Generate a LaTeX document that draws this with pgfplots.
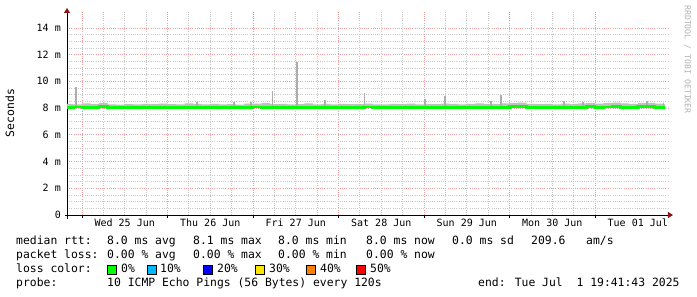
\documentclass[border=0pt]{standalone}
\usepackage{fontspec}
\setmainfont{DejaVu Sans Mono}
\setmonofont{DejaVu Sans Mono}
\usepackage{pgfplots}
\pgfplotsset{compat=1.18}
\usetikzlibrary{arrows.meta}
\definecolor{majgrid}{RGB}{232,160,160}
\definecolor{mingrid}{RGB}{200,200,200}
\definecolor{smoke}{RGB}{192,192,192}
\definecolor{arrowred}{RGB}{140,20,20}
\definecolor{lossgreen}{RGB}{0,255,0}
\definecolor{loss10}{RGB}{0,184,255}
\definecolor{loss20}{RGB}{0,0,255}
\definecolor{loss30}{RGB}{255,230,0}
\definecolor{loss40}{RGB}{255,128,0}
\definecolor{loss50}{RGB}{255,0,0}
\newcommand\legfont{\fontsize{11.4}{14}\selectfont}
\begin{document}
\begin{tikzpicture}
\path[use as bounding box, fill=white] (-67pt,-82pt) rectangle (630pt,215pt);
\begin{axis}[
  at={(0pt,0pt)}, anchor=south west,
  scale only axis, width=602pt, height=203pt,
  xmin=-0.1754, xmax=6.865, ymin=0, ymax=15.19,
  axis lines=left,
  x axis line style={black, line width=0.8pt, -{Triangle[length=5pt,width=6pt,color=arrowred]}, shorten <=-2pt, shorten >=-4pt},
  y axis line style={black, line width=0.8pt, -{Triangle[length=5pt,width=6pt,color=arrowred]}, shorten <=-4pt, shorten >=-4pt},
  xtick={0,1,2,3,4,5,6}, xticklabels={},
  minor x tick num=3,
  extra x ticks={0.5,1.5,2.5,3.5,4.5,5.5,6.5},
  extra x tick labels={Wed 25 Jun,Thu 26 Jun,Fri 27 Jun,Sat 28 Jun,Sun 29 Jun,Mon 30 Jun,Tue 01 Jul},
  extra x tick style={grid=none, major tick length=0pt},
  ytick={0,2,4,6,8,10,12,14},
  yticklabels={0,2 m,4 m,6 m,8 m,10 m,12 m,14 m},
  minor y tick num=3,
  grid=both,
  major grid style={majgrid, line width=0.8pt, dash pattern=on 1pt off 1.2pt},
  minor grid style={mingrid, line width=0.8pt, dash pattern=on 1pt off 1.2pt},
  tick style={black, line width=0.8pt},
  ytick style={draw=none},
  minor tick style={draw=none},
  tick align=outside, major tick length=3pt, minor tick length=0pt,
  ticklabel style={font=\fontsize{10}{12}\selectfont},
  yticklabel style={anchor=east, inner sep=0pt, xshift=-3pt},
  xticklabel style={anchor=base, inner sep=0pt, yshift=-12pt},
  /pgf/number format/assume math mode=true,
  clip=true,
]
% smoke band (upper envelope, then back along the lower edge)
\addplot[fill=smoke, draw=none, const plot] coordinates {
(-0.175,8.32) (-0.1,8.28) (0.0,8.35) (0.1,8.30) (0.2,8.37) (0.3,8.28) (0.4,8.26) (0.5,8.30) (0.6,8.27) (0.7,8.32)
(0.8,8.29) (0.9,8.34) (1.0,8.30) (1.1,8.28) (1.2,8.36) (1.3,8.31) (1.4,8.27) (1.5,8.32) (1.6,8.28) (1.7,8.30)
(1.8,8.26) (1.9,8.33) (2.0,8.34) (2.1,8.38) (2.2,8.29) (2.3,8.32) (2.4,8.28) (2.5,8.30) (2.6,8.35) (2.7,8.28)
(2.8,8.31) (2.9,8.27) (3.0,8.32) (3.1,8.29) (3.2,8.30) (3.3,8.33) (3.4,8.28) (3.5,8.27) (3.6,8.31) (3.7,8.29)
(3.8,8.33) (3.9,8.27) (4.0,8.32) (4.1,8.30) (4.2,8.34) (4.3,8.31) (4.4,8.28) (4.5,8.32) (4.6,8.36) (4.7,8.30)
(4.8,8.32) (4.9,8.35) (5.0,8.37) (5.1,8.40) (5.2,8.32) (5.3,8.29) (5.4,8.31) (5.5,8.28) (5.6,8.33) (5.7,8.31)
(5.8,8.36) (5.9,8.38) (6.0,8.34) (6.1,8.37) (6.2,8.40) (6.3,8.35) (6.4,8.31) (6.5,8.37) (6.6,8.39) (6.7,8.33)
(6.8,8.30) (6.82,8.30) (6.82,7.98) (-0.175,7.98)
};
% spikes
\addplot[smoke!90!black, line width=1.4pt, unbounded coords=jump] coordinates {
(-0.070,8.1) (-0.070,9.58) (-0.070,nan)
(1.345,8.1) (1.345,8.42) (1.345,nan)
(1.778,8.1) (1.778,8.48) (1.778,nan)
(1.977,8.1) (1.977,8.48) (1.977,nan)
(2.228,8.1) (2.228,9.28) (2.228,nan)
(2.515,8.1) (2.515,11.45) (2.515,nan)
(2.842,8.1) (2.842,8.60) (2.842,nan)
(3.304,8.1) (3.304,9.10) (3.304,nan)
(4.012,8.1) (4.012,8.65) (4.012,nan)
(4.246,8.1) (4.246,8.90) (4.246,nan)
(4.784,8.1) (4.784,8.50) (4.784,nan)
(4.901,8.1) (4.901,9.00) (4.901,nan)
(5.637,8.1) (5.637,8.55) (5.637,nan)
(5.860,8.1) (5.860,8.48) (5.860,nan)
(6.608,8.1) (6.608,8.55) (6.608,nan)
(6.800,8.1) (6.800,8.40)
};
% median rtt
\addplot[lossgreen, line width=2.8pt, const plot] coordinates {
(-0.175,8.05) (-0.1,8.08) (0.0,8.04) (0.1,8.06) (0.2,8.10) (0.3,8.05) (0.4,8.02) (0.5,8.04) (0.6,8.03) (0.7,8.06)
(0.8,8.04) (0.9,8.02) (1.0,8.05) (1.1,8.04) (1.2,8.07) (1.3,8.05) (1.4,8.03) (1.5,8.06) (1.6,8.04) (1.7,8.05)
(1.8,8.03) (1.9,8.06) (2.0,8.08) (2.1,8.05) (2.2,8.04) (2.3,8.06) (2.4,8.03) (2.5,8.05) (2.6,8.07) (2.7,8.04)
(2.8,8.05) (2.9,8.03) (3.0,8.06) (3.1,8.04) (3.2,8.05) (3.3,8.08) (3.4,8.04) (3.5,8.03) (3.6,8.05) (3.7,8.04)
(3.8,8.06) (3.9,8.03) (4.0,8.05) (4.1,8.04) (4.2,8.06) (4.3,8.05) (4.4,8.03) (4.5,8.05) (4.6,8.07) (4.7,8.04)
(4.8,8.05) (4.9,8.06) (5.0,8.09) (5.1,8.11) (5.2,8.06) (5.3,8.04) (5.4,8.05) (5.5,8.03) (5.6,8.06) (5.7,8.05)
(5.8,8.07) (5.9,8.09) (6.0,8.06) (6.1,8.08) (6.2,8.10) (6.3,8.07) (6.4,8.05) (6.5,8.09) (6.6,8.11) (6.7,8.06)
(6.8,8.04) (6.82,8.04)
};
\end{axis}
% y label and watermark
\node[rotate=90, font=\legfont, inner sep=0pt] at (-57pt,102pt) {Seconds};
\node[rotate=-90, anchor=west, inner sep=0pt, font=\fontsize{8.2}{10}\selectfont, text=black!30] at (620.5pt,210pt) {RRDTOOL / TOBI OETIKER};
% legend
\begin{scope}[every node/.style={anchor=base west, inner sep=0pt, font=\legfont}]
\node at (-51pt,-29.5pt) {median rtt:};
\node at (40pt,-29.5pt) {8.0 ms avg};
\node at (126pt,-29.5pt) {8.1 ms max};
\node at (211pt,-29.5pt) {8.0 ms min};
\node at (299pt,-29.5pt) {8.0 ms now};
\node at (385pt,-29.5pt) {0.0 ms sd};
\node at (464pt,-29.5pt) {209.6};
\node at (519pt,-29.5pt) {am/s};
\node at (-51pt,-43.5pt) {packet loss:};
\node at (40pt,-43.5pt) {0.00 \% avg};
\node at (126pt,-43.5pt) {0.00 \% max};
\node at (211pt,-43.5pt) {0.00 \% min};
\node at (299pt,-43.5pt) {0.00 \% now};
\node at (-51pt,-57.5pt) {loss color:};
\node at (54pt,-57.5pt) {0\%};
\node at (93pt,-57.5pt) {10\%};
\node at (150pt,-57.5pt) {20\%};
\node at (202pt,-57.5pt) {30\%};
\node at (253pt,-57.5pt) {40\%};
\node at (303pt,-57.5pt) {50\%};
\node at (-51pt,-71.5pt) {probe:};
\node at (40pt,-71.5pt) {10 ICMP Echo Pings (56 Bytes) every 120s};
\node at (411pt,-71.5pt) {end: Tue Jul\ \ 1 19:41:43 2025};
\end{scope}
\foreach \bx/\bc in {40/lossgreen,80/loss10,136/loss20,188/loss30,239/loss40,289/loss50}
  \draw[black, line width=0.6pt, fill=\bc] (\bx pt,-59pt) rectangle ++(9pt,9pt);
\end{tikzpicture}
\end{document}
